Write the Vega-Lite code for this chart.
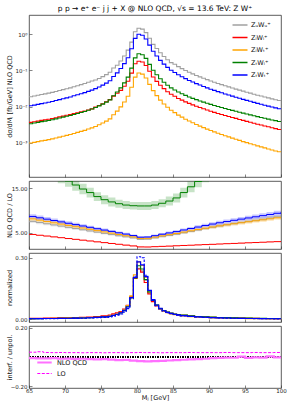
{
"$schema": "https://vega.github.io/schema/vega-lite/v6.json",
"background": "white",
"padding": {"left": 5, "top": 4, "right": 12, "bottom": 8},
"spacing": 4,
"bounds": "flush",
"resolve": {"scale": {"color": "independent", "strokeDash": "independent", "strokeWidth": "independent"}},
"config": {
 "font": "DejaVu Sans",
 "view": {"stroke": "#333333", "strokeWidth": 0.8},
 "axis": {"grid": false, "domain": false, "tickSize": -3, "tickColor": "#333333", "tickWidth": 0.6, "labelFontSize": 5.5, "labelColor": "#222222", "labelPadding": 5, "labelFlush": false, "titleFontSize": 6.5, "titleFontWeight": "normal", "titleColor": "#111111"},
 "axisY": {"titleX": -17},
 "axisX": {"labelPadding": 3, "titlePadding": 1},
 "legend": {"title": null, "labelFontSize": 6.5, "labelColor": "#111111"}
},
"datasets": {
"top": [
{"s":"UU","x":65,"v":0.0189},{"s":"UU","x":65.5,"v":0.0198},{"s":"UU","x":66,"v":0.0207},{"s":"UU","x":66.5,"v":0.0217},{"s":"UU","x":67,"v":0.0226},{"s":"UU","x":67.5,"v":0.0237},{"s":"UU","x":68,"v":0.0249},{"s":"UU","x":68.5,"v":0.0263},{"s":"UU","x":69,"v":0.028},{"s":"UU","x":69.5,"v":0.0296},{"s":"UU","x":70,"v":0.0313},{"s":"UU","x":70.5,"v":0.0331},{"s":"UU","x":71,"v":0.0356},{"s":"UU","x":71.5,"v":0.0381},{"s":"UU","x":72,"v":0.0408},{"s":"UU","x":72.5,"v":0.0436},{"s":"UU","x":73,"v":0.0474},{"s":"UU","x":73.5,"v":0.0513},{"s":"UU","x":74,"v":0.0544},{"s":"UU","x":74.5,"v":0.0604},{"s":"UU","x":75,"v":0.0678},{"s":"UU","x":75.5,"v":0.0769},{"s":"UU","x":76,"v":0.0893},{"s":"UU","x":76.5,"v":0.117},{"s":"UU","x":77,"v":0.139},{"s":"UU","x":77.5,"v":0.183},{"s":"UU","x":78,"v":0.251},{"s":"UU","x":78.5,"v":0.365},{"s":"UU","x":79,"v":0.608},{"s":"UU","x":79.5,"v":1.17},{"s":"UU","x":80,"v":1.46},{"s":"UU","x":80.5,"v":1.39},{"s":"UU","x":81,"v":1.11},{"s":"UU","x":81.5,"v":0.775},{"s":"UU","x":82,"v":0.527},{"s":"UU","x":82.5,"v":0.405},{"s":"UU","x":83,"v":0.308},{"s":"UU","x":83.5,"v":0.243},{"s":"UU","x":84,"v":0.198},{"s":"UU","x":84.5,"v":0.165},{"s":"UU","x":85,"v":0.148},{"s":"UU","x":85.5,"v":0.128},{"s":"UU","x":86,"v":0.1129},{"s":"UU","x":86.5,"v":0.1},{"s":"UU","x":87,"v":0.0894},{"s":"UU","x":87.5,"v":0.0806},{"s":"UU","x":88,"v":0.0731},{"s":"UU","x":88.5,"v":0.0665},{"s":"UU","x":89,"v":0.0608},{"s":"UU","x":89.5,"v":0.0558},{"s":"UU","x":90,"v":0.0512},{"s":"UU","x":90.5,"v":0.0474},{"s":"UU","x":91,"v":0.0438},{"s":"UU","x":91.5,"v":0.0407},{"s":"UU","x":92,"v":0.0378},{"s":"UU","x":92.5,"v":0.0353},{"s":"UU","x":93,"v":0.0329},{"s":"UU","x":93.5,"v":0.0307},{"s":"UU","x":94,"v":0.0287},{"s":"UU","x":94.5,"v":0.0269},{"s":"UU","x":95,"v":0.0252},{"s":"UU","x":95.5,"v":0.0237},{"s":"UU","x":96,"v":0.0222},{"s":"UU","x":96.5,"v":0.0208},{"s":"UU","x":97,"v":0.0197},{"s":"UU","x":97.5,"v":0.0185},{"s":"UU","x":98,"v":0.0175},{"s":"UU","x":98.5,"v":0.0165},{"s":"UU","x":99,"v":0.0156},{"s":"UU","x":99.5,"v":0.0148},{"s":"UU","x":100,"v":0.0148},
{"s":"LL","x":65,"v":0.00371},{"s":"LL","x":65.5,"v":0.00386},{"s":"LL","x":66,"v":0.00401},{"s":"LL","x":66.5,"v":0.0042},{"s":"LL","x":67,"v":0.00434},{"s":"LL","x":67.5,"v":0.00452},{"s":"LL","x":68,"v":0.00473},{"s":"LL","x":68.5,"v":0.00497},{"s":"LL","x":69,"v":0.00524},{"s":"LL","x":69.5,"v":0.00551},{"s":"LL","x":70,"v":0.00581},{"s":"LL","x":70.5,"v":0.00606},{"s":"LL","x":71,"v":0.00644},{"s":"LL","x":71.5,"v":0.00681},{"s":"LL","x":72,"v":0.00719},{"s":"LL","x":72.5,"v":0.0076},{"s":"LL","x":73,"v":0.00814},{"s":"LL","x":73.5,"v":0.0087},{"s":"LL","x":74,"v":0.0098},{"s":"LL","x":74.5,"v":0.0108},{"s":"LL","x":75,"v":0.0121},{"s":"LL","x":75.5,"v":0.0137},{"s":"LL","x":76,"v":0.0157},{"s":"LL","x":76.5,"v":0.0196},{"s":"LL","x":77,"v":0.0236},{"s":"LL","x":77.5,"v":0.0283},{"s":"LL","x":78,"v":0.0369},{"s":"LL","x":78.5,"v":0.0506},{"s":"LL","x":79,"v":0.0848},{"s":"LL","x":79.5,"v":0.154},{"s":"LL","x":80,"v":0.18},{"s":"LL","x":80.5,"v":0.171},{"s":"LL","x":81,"v":0.1376},{"s":"LL","x":81.5,"v":0.095},{"s":"LL","x":82,"v":0.0663},{"s":"LL","x":82.5,"v":0.05},{"s":"LL","x":83,"v":0.039},{"s":"LL","x":83.5,"v":0.0315},{"s":"LL","x":84,"v":0.026},{"s":"LL","x":84.5,"v":0.022},{"s":"LL","x":85,"v":0.0194},{"s":"LL","x":85.5,"v":0.0169},{"s":"LL","x":86,"v":0.01519},{"s":"LL","x":86.5,"v":0.01363},{"s":"LL","x":87,"v":0.01234},{"s":"LL","x":87.5,"v":0.01128},{"s":"LL","x":88,"v":0.01035},{"s":"LL","x":88.5,"v":0.0095},{"s":"LL","x":89,"v":0.00876},{"s":"LL","x":89.5,"v":0.0081},{"s":"LL","x":90,"v":0.0075},{"s":"LL","x":90.5,"v":0.00699},{"s":"LL","x":91,"v":0.00653},{"s":"LL","x":91.5,"v":0.0061},{"s":"LL","x":92,"v":0.00572},{"s":"LL","x":92.5,"v":0.00538},{"s":"LL","x":93,"v":0.00506},{"s":"LL","x":93.5,"v":0.00476},{"s":"LL","x":94,"v":0.00446},{"s":"LL","x":94.5,"v":0.00419},{"s":"LL","x":95,"v":0.00395},{"s":"LL","x":95.5,"v":0.00372},{"s":"LL","x":96,"v":0.0035},{"s":"LL","x":96.5,"v":0.0033},{"s":"LL","x":97,"v":0.00312},{"s":"LL","x":97.5,"v":0.00295},{"s":"LL","x":98,"v":0.00279},{"s":"LL","x":98.5,"v":0.00263},{"s":"LL","x":99,"v":0.00249},{"s":"LL","x":99.5,"v":0.00236},{"s":"LL","x":100,"v":0.00236},
{"s":"LT","x":65,"v":0.000996},{"s":"LT","x":65.5,"v":0.00104},{"s":"LT","x":66,"v":0.00109},{"s":"LT","x":66.5,"v":0.00114},{"s":"LT","x":67,"v":0.00118},{"s":"LT","x":67.5,"v":0.00124},{"s":"LT","x":68,"v":0.0013},{"s":"LT","x":68.5,"v":0.00137},{"s":"LT","x":69,"v":0.00145},{"s":"LT","x":69.5,"v":0.00153},{"s":"LT","x":70,"v":0.00162},{"s":"LT","x":70.5,"v":0.00171},{"s":"LT","x":71,"v":0.00183},{"s":"LT","x":71.5,"v":0.00196},{"s":"LT","x":72,"v":0.00209},{"s":"LT","x":72.5,"v":0.00223},{"s":"LT","x":73,"v":0.00242},{"s":"LT","x":73.5,"v":0.00261},{"s":"LT","x":74,"v":0.00286},{"s":"LT","x":74.5,"v":0.00317},{"s":"LT","x":75,"v":0.00355},{"s":"LT","x":75.5,"v":0.004},{"s":"LT","x":76,"v":0.00462},{"s":"LT","x":76.5,"v":0.00602},{"s":"LT","x":77,"v":0.00757},{"s":"LT","x":77.5,"v":0.00989},{"s":"LT","x":78,"v":0.01349},{"s":"LT","x":78.5,"v":0.01946},{"s":"LT","x":79,"v":0.0344},{"s":"LT","x":79.5,"v":0.0658},{"s":"LT","x":80,"v":0.085},{"s":"LT","x":80.5,"v":0.0794},{"s":"LT","x":81,"v":0.0622},{"s":"LT","x":81.5,"v":0.0415},{"s":"LT","x":82,"v":0.0279},{"s":"LT","x":82.5,"v":0.0203},{"s":"LT","x":83,"v":0.0152},{"s":"LT","x":83.5,"v":0.0119},{"s":"LT","x":84,"v":0.00964},{"s":"LT","x":84.5,"v":0.008},{"s":"LT","x":85,"v":0.00686},{"s":"LT","x":85.5,"v":0.00588},{"s":"LT","x":86,"v":0.00516},{"s":"LT","x":86.5,"v":0.00453},{"s":"LT","x":87,"v":0.00402},{"s":"LT","x":87.5,"v":0.0036},{"s":"LT","x":88,"v":0.00324},{"s":"LT","x":88.5,"v":0.00292},{"s":"LT","x":89,"v":0.00265},{"s":"LT","x":89.5,"v":0.00241},{"s":"LT","x":90,"v":0.0022},{"s":"LT","x":90.5,"v":0.00202},{"s":"LT","x":91,"v":0.00186},{"s":"LT","x":91.5,"v":0.00171},{"s":"LT","x":92,"v":0.00158},{"s":"LT","x":92.5,"v":0.00147},{"s":"LT","x":93,"v":0.00136},{"s":"LT","x":93.5,"v":0.00127},{"s":"LT","x":94,"v":0.00118},{"s":"LT","x":94.5,"v":0.00109},{"s":"LT","x":95,"v":0.00102},{"s":"LT","x":95.5,"v":0.00095},{"s":"LT","x":96,"v":0.00089},{"s":"LT","x":96.5,"v":0.00083},{"s":"LT","x":97,"v":0.00078},{"s":"LT","x":97.5,"v":0.00073},{"s":"LT","x":98,"v":0.00068},{"s":"LT","x":98.5,"v":0.00064},{"s":"LT","x":99,"v":0.0006},{"s":"LT","x":99.5,"v":0.00057},{"s":"LT","x":100,"v":0.00057},
{"s":"TL","x":65,"v":0.00339},{"s":"TL","x":65.5,"v":0.00355},{"s":"TL","x":66,"v":0.00371},{"s":"TL","x":66.5,"v":0.00388},{"s":"TL","x":67,"v":0.00401},{"s":"TL","x":67.5,"v":0.00418},{"s":"TL","x":68,"v":0.00438},{"s":"TL","x":68.5,"v":0.00462},{"s":"TL","x":69,"v":0.00488},{"s":"TL","x":69.5,"v":0.00515},{"s":"TL","x":70,"v":0.00546},{"s":"TL","x":70.5,"v":0.00573},{"s":"TL","x":71,"v":0.00612},{"s":"TL","x":71.5,"v":0.00653},{"s":"TL","x":72,"v":0.00696},{"s":"TL","x":72.5,"v":0.00742},{"s":"TL","x":73,"v":0.00803},{"s":"TL","x":73.5,"v":0.00867},{"s":"TL","x":74,"v":0.00948},{"s":"TL","x":74.5,"v":0.01053},{"s":"TL","x":75,"v":0.01182},{"s":"TL","x":75.5,"v":0.01341},{"s":"TL","x":76,"v":0.01547},{"s":"TL","x":76.5,"v":0.0201},{"s":"TL","x":77,"v":0.0254},{"s":"TL","x":77.5,"v":0.0332},{"s":"TL","x":78,"v":0.0454},{"s":"TL","x":78.5,"v":0.0657},{"s":"TL","x":79,"v":0.1164},{"s":"TL","x":79.5,"v":0.2233},{"s":"TL","x":80,"v":0.29},{"s":"TL","x":80.5,"v":0.2726},{"s":"TL","x":81,"v":0.2161},{"s":"TL","x":81.5,"v":0.1475},{"s":"TL","x":82,"v":0.102},{"s":"TL","x":82.5,"v":0.0763},{"s":"TL","x":83,"v":0.0589},{"s":"TL","x":83.5,"v":0.0473},{"s":"TL","x":84,"v":0.039},{"s":"TL","x":84.5,"v":0.0332},{"s":"TL","x":85,"v":0.029},{"s":"TL","x":85.5,"v":0.0255},{"s":"TL","x":86,"v":0.02285},{"s":"TL","x":86.5,"v":0.02053},{"s":"TL","x":87,"v":0.01862},{"s":"TL","x":87.5,"v":0.01704},{"s":"TL","x":88,"v":0.01566},{"s":"TL","x":88.5,"v":0.01445},{"s":"TL","x":89,"v":0.01339},{"s":"TL","x":89.5,"v":0.01245},{"s":"TL","x":90,"v":0.01159},{"s":"TL","x":90.5,"v":0.01083},{"s":"TL","x":91,"v":0.01013},{"s":"TL","x":91.5,"v":0.00949},{"s":"TL","x":92,"v":0.00891},{"s":"TL","x":92.5,"v":0.0084},{"s":"TL","x":93,"v":0.00792},{"s":"TL","x":93.5,"v":0.00747},{"s":"TL","x":94,"v":0.00705},{"s":"TL","x":94.5,"v":0.00666},{"s":"TL","x":95,"v":0.0063},{"s":"TL","x":95.5,"v":0.00596},{"s":"TL","x":96,"v":0.00562},{"s":"TL","x":96.5,"v":0.00532},{"s":"TL","x":97,"v":0.00505},{"s":"TL","x":97.5,"v":0.00479},{"s":"TL","x":98,"v":0.00456},{"s":"TL","x":98.5,"v":0.00432},{"s":"TL","x":99,"v":0.00413},{"s":"TL","x":99.5,"v":0.00393},{"s":"TL","x":100,"v":0.00393},
{"s":"TT","x":65,"v":0.0106},{"s":"TT","x":65.5,"v":0.0111},{"s":"TT","x":66,"v":0.0116},{"s":"TT","x":66.5,"v":0.0122},{"s":"TT","x":67,"v":0.0127},{"s":"TT","x":67.5,"v":0.0133},{"s":"TT","x":68,"v":0.014},{"s":"TT","x":68.5,"v":0.0148},{"s":"TT","x":69,"v":0.0157},{"s":"TT","x":69.5,"v":0.0166},{"s":"TT","x":70,"v":0.0176},{"s":"TT","x":70.5,"v":0.0186},{"s":"TT","x":71,"v":0.02},{"s":"TT","x":71.5,"v":0.0214},{"s":"TT","x":72,"v":0.0229},{"s":"TT","x":72.5,"v":0.0245},{"s":"TT","x":73,"v":0.0266},{"s":"TT","x":73.5,"v":0.0288},{"s":"TT","x":74,"v":0.0316},{"s":"TT","x":74.5,"v":0.0351},{"s":"TT","x":75,"v":0.0394},{"s":"TT","x":75.5,"v":0.0447},{"s":"TT","x":76,"v":0.0519},{"s":"TT","x":76.5,"v":0.068},{"s":"TT","x":77,"v":0.086},{"s":"TT","x":77.5,"v":0.113},{"s":"TT","x":78,"v":0.155},{"s":"TT","x":78.5,"v":0.225},{"s":"TT","x":79,"v":0.4},{"s":"TT","x":79.5,"v":0.77},{"s":"TT","x":80,"v":1.0},{"s":"TT","x":80.5,"v":0.94},{"s":"TT","x":81,"v":0.74},{"s":"TT","x":81.5,"v":0.5},{"s":"TT","x":82,"v":0.34},{"s":"TT","x":82.5,"v":0.25},{"s":"TT","x":83,"v":0.19},{"s":"TT","x":83.5,"v":0.15},{"s":"TT","x":84,"v":0.122},{"s":"TT","x":84.5,"v":0.102},{"s":"TT","x":85,"v":0.088},{"s":"TT","x":85.5,"v":0.076},{"s":"TT","x":86,"v":0.0672},{"s":"TT","x":86.5,"v":0.0595},{"s":"TT","x":87,"v":0.0532},{"s":"TT","x":87.5,"v":0.048},{"s":"TT","x":88,"v":0.0435},{"s":"TT","x":88.5,"v":0.0396},{"s":"TT","x":89,"v":0.0362},{"s":"TT","x":89.5,"v":0.0332},{"s":"TT","x":90,"v":0.0305},{"s":"TT","x":90.5,"v":0.0282},{"s":"TT","x":91,"v":0.0261},{"s":"TT","x":91.5,"v":0.0242},{"s":"TT","x":92,"v":0.0225},{"s":"TT","x":92.5,"v":0.021},{"s":"TT","x":93,"v":0.0196},{"s":"TT","x":93.5,"v":0.0183},{"s":"TT","x":94,"v":0.0171},{"s":"TT","x":94.5,"v":0.016},{"s":"TT","x":95,"v":0.015},{"s":"TT","x":95.5,"v":0.0141},{"s":"TT","x":96,"v":0.0132},{"s":"TT","x":96.5,"v":0.0124},{"s":"TT","x":97,"v":0.0117},{"s":"TT","x":97.5,"v":0.011},{"s":"TT","x":98,"v":0.0104},{"s":"TT","x":98.5,"v":0.0098},{"s":"TT","x":99,"v":0.0093},{"s":"TT","x":99.5,"v":0.0088},{"s":"TT","x":100,"v":0.0088}
],
"ratio": [
{"s":"UU","x":65,"v":7.54,"lo":7.16,"hi":7.92},{"s":"UU","x":66,"v":7.27,"lo":6.91,"hi":7.63},{"s":"UU","x":67,"v":7.0,"lo":6.65,"hi":7.35},{"s":"UU","x":68,"v":6.73,"lo":6.39,"hi":7.07},{"s":"UU","x":69,"v":6.46,"lo":6.14,"hi":6.78},{"s":"UU","x":70,"v":6.19,"lo":5.88,"hi":6.5},{"s":"UU","x":71,"v":5.92,"lo":5.62,"hi":6.22},{"s":"UU","x":72,"v":5.65,"lo":5.37,"hi":5.93},{"s":"UU","x":73,"v":5.38,"lo":5.11,"hi":5.65},{"s":"UU","x":74,"v":5.11,"lo":4.85,"hi":5.37},{"s":"UU","x":75,"v":4.84,"lo":4.6,"hi":5.08},{"s":"UU","x":76,"v":4.57,"lo":4.34,"hi":4.8},{"s":"UU","x":77,"v":4.3,"lo":4.09,"hi":4.52},{"s":"UU","x":78,"v":4.06,"lo":3.86,"hi":4.26},{"s":"UU","x":79,"v":3.82,"lo":3.63,"hi":4.01},{"s":"UU","x":80,"v":3.5,"lo":3.33,"hi":3.68},{"s":"UU","x":81,"v":3.54,"lo":3.36,"hi":3.72},{"s":"UU","x":82,"v":3.82,"lo":3.63,"hi":4.01},{"s":"UU","x":83,"v":4.1,"lo":3.9,"hi":4.31},{"s":"UU","x":84,"v":4.37,"lo":4.15,"hi":4.59},{"s":"UU","x":85,"v":4.64,"lo":4.41,"hi":4.87},{"s":"UU","x":86,"v":4.97,"lo":4.72,"hi":5.22},{"s":"UU","x":87,"v":5.28,"lo":5.02,"hi":5.54},{"s":"UU","x":88,"v":5.59,"lo":5.31,"hi":5.87},{"s":"UU","x":89,"v":5.91,"lo":5.61,"hi":6.21},{"s":"UU","x":90,"v":6.22,"lo":5.91,"hi":6.53},{"s":"UU","x":91,"v":6.5,"lo":6.18,"hi":6.83},{"s":"UU","x":92,"v":6.77,"lo":6.43,"hi":7.11},{"s":"UU","x":93,"v":7.03,"lo":6.68,"hi":7.38},{"s":"UU","x":94,"v":7.29,"lo":6.93,"hi":7.65},{"s":"UU","x":95,"v":7.54,"lo":7.16,"hi":7.92},{"s":"UU","x":96,"v":7.79,"lo":7.4,"hi":8.18},{"s":"UU","x":97,"v":8.04,"lo":7.64,"hi":8.44},{"s":"UU","x":98,"v":8.3,"lo":7.89,"hi":8.72},{"s":"UU","x":99,"v":8.56,"lo":8.13,"hi":8.99},{"s":"UU","x":100,"v":8.81,"lo":8.37,"hi":9.25},
{"s":"LL","x":65,"v":4.6,"lo":4.53,"hi":4.67},{"s":"LL","x":66,"v":4.42,"lo":4.35,"hi":4.49},{"s":"LL","x":67,"v":4.24,"lo":4.17,"hi":4.31},{"s":"LL","x":68,"v":4.05,"lo":3.98,"hi":4.12},{"s":"LL","x":69,"v":3.87,"lo":3.8,"hi":3.94},{"s":"LL","x":70,"v":3.68,"lo":3.61,"hi":3.75},{"s":"LL","x":71,"v":3.5,"lo":3.43,"hi":3.57},{"s":"LL","x":72,"v":3.31,"lo":3.24,"hi":3.38},{"s":"LL","x":73,"v":3.13,"lo":3.06,"hi":3.2},{"s":"LL","x":74,"v":2.94,"lo":2.87,"hi":3.01},{"s":"LL","x":75,"v":2.76,"lo":2.69,"hi":2.83},{"s":"LL","x":76,"v":2.57,"lo":2.5,"hi":2.64},{"s":"LL","x":77,"v":2.39,"lo":2.32,"hi":2.46},{"s":"LL","x":78,"v":2.2,"lo":2.13,"hi":2.27},{"s":"LL","x":79,"v":2.02,"lo":1.95,"hi":2.09},{"s":"LL","x":80,"v":1.8,"lo":1.73,"hi":1.87},{"s":"LL","x":81,"v":1.78,"lo":1.71,"hi":1.85},{"s":"LL","x":82,"v":1.85,"lo":1.78,"hi":1.92},{"s":"LL","x":83,"v":1.92,"lo":1.85,"hi":1.99},{"s":"LL","x":84,"v":1.98,"lo":1.91,"hi":2.05},{"s":"LL","x":85,"v":2.05,"lo":1.98,"hi":2.12},{"s":"LL","x":86,"v":2.12,"lo":2.05,"hi":2.19},{"s":"LL","x":87,"v":2.18,"lo":2.11,"hi":2.25},{"s":"LL","x":88,"v":2.25,"lo":2.18,"hi":2.32},{"s":"LL","x":89,"v":2.32,"lo":2.25,"hi":2.39},{"s":"LL","x":90,"v":2.38,"lo":2.31,"hi":2.45},{"s":"LL","x":91,"v":2.45,"lo":2.38,"hi":2.52},{"s":"LL","x":92,"v":2.52,"lo":2.45,"hi":2.59},{"s":"LL","x":93,"v":2.58,"lo":2.51,"hi":2.65},{"s":"LL","x":94,"v":2.65,"lo":2.58,"hi":2.72},{"s":"LL","x":95,"v":2.72,"lo":2.65,"hi":2.79},{"s":"LL","x":96,"v":2.78,"lo":2.71,"hi":2.85},{"s":"LL","x":97,"v":2.85,"lo":2.78,"hi":2.92},{"s":"LL","x":98,"v":2.92,"lo":2.85,"hi":2.99},{"s":"LL","x":99,"v":2.98,"lo":2.91,"hi":3.05},{"s":"LL","x":100,"v":3.05,"lo":2.98,"hi":3.12},
{"s":"LT","x":65,"v":8.09,"lo":7.6,"hi":8.58},{"s":"LT","x":66,"v":7.8,"lo":7.33,"hi":8.27},{"s":"LT","x":67,"v":7.5,"lo":7.05,"hi":7.95},{"s":"LT","x":68,"v":7.21,"lo":6.78,"hi":7.64},{"s":"LT","x":69,"v":6.92,"lo":6.5,"hi":7.34},{"s":"LT","x":70,"v":6.62,"lo":6.22,"hi":7.02},{"s":"LT","x":71,"v":6.33,"lo":5.95,"hi":6.71},{"s":"LT","x":72,"v":6.04,"lo":5.68,"hi":6.4},{"s":"LT","x":73,"v":5.75,"lo":5.41,"hi":6.1},{"s":"LT","x":74,"v":5.46,"lo":5.13,"hi":5.79},{"s":"LT","x":75,"v":5.17,"lo":4.86,"hi":5.48},{"s":"LT","x":76,"v":4.88,"lo":4.59,"hi":5.17},{"s":"LT","x":77,"v":4.58,"lo":4.31,"hi":4.85},{"s":"LT","x":78,"v":4.31,"lo":4.05,"hi":4.57},{"s":"LT","x":79,"v":4.04,"lo":3.8,"hi":4.28},{"s":"LT","x":80,"v":3.68,"lo":3.46,"hi":3.9},{"s":"LT","x":81,"v":3.72,"lo":3.5,"hi":3.94},{"s":"LT","x":82,"v":4.0,"lo":3.76,"hi":4.24},{"s":"LT","x":83,"v":4.28,"lo":4.02,"hi":4.54},{"s":"LT","x":84,"v":4.54,"lo":4.27,"hi":4.81},{"s":"LT","x":85,"v":4.81,"lo":4.52,"hi":5.1},{"s":"LT","x":86,"v":5.13,"lo":4.82,"hi":5.44},{"s":"LT","x":87,"v":5.42,"lo":5.09,"hi":5.75},{"s":"LT","x":88,"v":5.71,"lo":5.37,"hi":6.05},{"s":"LT","x":89,"v":6.0,"lo":5.64,"hi":6.36},{"s":"LT","x":90,"v":6.28,"lo":5.9,"hi":6.66},{"s":"LT","x":91,"v":6.53,"lo":6.14,"hi":6.92},{"s":"LT","x":92,"v":6.77,"lo":6.36,"hi":7.18},{"s":"LT","x":93,"v":7.0,"lo":6.58,"hi":7.42},{"s":"LT","x":94,"v":7.23,"lo":6.8,"hi":7.66},{"s":"LT","x":95,"v":7.45,"lo":7.0,"hi":7.9},{"s":"LT","x":96,"v":7.67,"lo":7.21,"hi":8.13},{"s":"LT","x":97,"v":7.89,"lo":7.42,"hi":8.36},{"s":"LT","x":98,"v":8.11,"lo":7.62,"hi":8.6},{"s":"LT","x":99,"v":8.34,"lo":7.84,"hi":8.84},{"s":"LT","x":100,"v":8.56,"lo":8.05,"hi":9.07},
{"s":"TL","x":65,"v":21.0,"lo":19.3,"hi":22.7},{"s":"TL","x":66,"v":20.1,"lo":18.5,"hi":21.7},{"s":"TL","x":67,"v":19.2,"lo":17.7,"hi":20.7},{"s":"TL","x":68,"v":18.3,"lo":16.8,"hi":19.8},{"s":"TL","x":69,"v":17.5,"lo":16.1,"hi":18.9},{"s":"TL","x":70,"v":16.6,"lo":15.3,"hi":17.9},{"s":"TL","x":71,"v":15.7,"lo":14.4,"hi":17.0},{"s":"TL","x":72,"v":14.8,"lo":13.6,"hi":16.0},{"s":"TL","x":73,"v":14.0,"lo":12.9,"hi":15.1},{"s":"TL","x":74,"v":13.1,"lo":12.1,"hi":14.1},{"s":"TL","x":75,"v":12.4,"lo":11.4,"hi":13.4},{"s":"TL","x":76,"v":11.9,"lo":10.9,"hi":12.9},{"s":"TL","x":77,"v":11.5,"lo":10.6,"hi":12.4},{"s":"TL","x":78,"v":11.2,"lo":10.3,"hi":12.1},{"s":"TL","x":79,"v":11.05,"lo":10.2,"hi":11.9},{"s":"TL","x":80,"v":11.0,"lo":10.1,"hi":11.9},{"s":"TL","x":81,"v":11.0,"lo":10.1,"hi":11.9},{"s":"TL","x":82,"v":11.2,"lo":10.3,"hi":12.1},{"s":"TL","x":83,"v":11.6,"lo":10.7,"hi":12.5},{"s":"TL","x":84,"v":12.1,"lo":11.1,"hi":13.1},{"s":"TL","x":85,"v":12.8,"lo":11.8,"hi":13.8},{"s":"TL","x":86,"v":14.0,"lo":12.9,"hi":15.1},{"s":"TL","x":87,"v":15.3,"lo":14.1,"hi":16.5},{"s":"TL","x":88,"v":16.5,"lo":15.2,"hi":17.8},{"s":"TL","x":89,"v":17.7,"lo":16.3,"hi":19.1},{"s":"TL","x":90,"v":18.9,"lo":17.4,"hi":20.4},{"s":"TL","x":91,"v":20.1,"lo":18.5,"hi":21.7},{"s":"TL","x":92,"v":21.3,"lo":19.6,"hi":23.0},{"s":"TL","x":93,"v":22.5,"lo":20.7,"hi":24.3},
{"s":"TT","x":65,"v":8.64,"lo":8.12,"hi":9.16},{"s":"TT","x":66,"v":8.34,"lo":7.84,"hi":8.84},{"s":"TT","x":67,"v":8.03,"lo":7.55,"hi":8.51},{"s":"TT","x":68,"v":7.73,"lo":7.27,"hi":8.19},{"s":"TT","x":69,"v":7.42,"lo":6.97,"hi":7.87},{"s":"TT","x":70,"v":7.11,"lo":6.68,"hi":7.54},{"s":"TT","x":71,"v":6.81,"lo":6.4,"hi":7.22},{"s":"TT","x":72,"v":6.5,"lo":6.11,"hi":6.89},{"s":"TT","x":73,"v":6.2,"lo":5.83,"hi":6.57},{"s":"TT","x":74,"v":5.89,"lo":5.54,"hi":6.24},{"s":"TT","x":75,"v":5.58,"lo":5.25,"hi":5.91},{"s":"TT","x":76,"v":5.28,"lo":4.96,"hi":5.6},{"s":"TT","x":77,"v":4.97,"lo":4.67,"hi":5.27},{"s":"TT","x":78,"v":4.68,"lo":4.4,"hi":4.96},{"s":"TT","x":79,"v":4.35,"lo":4.09,"hi":4.61},{"s":"TT","x":80,"v":3.98,"lo":3.74,"hi":4.22},{"s":"TT","x":81,"v":4.02,"lo":3.78,"hi":4.26},{"s":"TT","x":82,"v":4.32,"lo":4.06,"hi":4.58},{"s":"TT","x":83,"v":4.65,"lo":4.37,"hi":4.93},{"s":"TT","x":84,"v":4.94,"lo":4.64,"hi":5.24},{"s":"TT","x":85,"v":5.24,"lo":4.93,"hi":5.55},{"s":"TT","x":86,"v":5.6,"lo":5.26,"hi":5.94},{"s":"TT","x":87,"v":5.93,"lo":5.57,"hi":6.29},{"s":"TT","x":88,"v":6.26,"lo":5.88,"hi":6.64},{"s":"TT","x":89,"v":6.6,"lo":6.2,"hi":7.0},{"s":"TT","x":90,"v":6.93,"lo":6.51,"hi":7.35},{"s":"TT","x":91,"v":7.22,"lo":6.79,"hi":7.65},{"s":"TT","x":92,"v":7.5,"lo":7.05,"hi":7.95},{"s":"TT","x":93,"v":7.77,"lo":7.3,"hi":8.24},{"s":"TT","x":94,"v":8.04,"lo":7.56,"hi":8.52},{"s":"TT","x":95,"v":8.3,"lo":7.8,"hi":8.8},{"s":"TT","x":96,"v":8.56,"lo":8.05,"hi":9.07},{"s":"TT","x":97,"v":8.82,"lo":8.29,"hi":9.35},{"s":"TT","x":98,"v":9.08,"lo":8.54,"hi":9.62},{"s":"TT","x":99,"v":9.35,"lo":8.79,"hi":9.91},{"s":"TT","x":100,"v":9.6,"lo":9.02,"hi":10.18}
],
"norm": [
{"s":"UU","x":65,"v":0.0035},{"s":"UU","x":66,"v":0.0039},{"s":"UU","x":67,"v":0.0042},{"s":"UU","x":68,"v":0.0047},{"s":"UU","x":69,"v":0.0053},{"s":"UU","x":70,"v":0.0059},{"s":"UU","x":71,"v":0.0067},{"s":"UU","x":72,"v":0.0077},{"s":"UU","x":73,"v":0.009},{"s":"UU","x":74,"v":0.0105},{"s":"UU","x":75,"v":0.0132},{"s":"UU","x":76,"v":0.0163},{"s":"UU","x":76.5,"v":0.0214},{"s":"UU","x":77,"v":0.0254},{"s":"UU","x":77.5,"v":0.0334},{"s":"UU","x":78,"v":0.0458},{"s":"UU","x":78.5,"v":0.0666},{"s":"UU","x":79,"v":0.103},{"s":"UU","x":79.5,"v":0.199},{"s":"UU","x":80,"v":0.248},{"s":"UU","x":80.5,"v":0.236},{"s":"UU","x":81,"v":0.189},{"s":"UU","x":81.5,"v":0.132},{"s":"UU","x":82,"v":0.0896},{"s":"UU","x":82.5,"v":0.069},{"s":"UU","x":83,"v":0.052},{"s":"UU","x":83.5,"v":0.041},{"s":"UU","x":84,"v":0.034},{"s":"UU","x":84.5,"v":0.028},{"s":"UU","x":85,"v":0.025},{"s":"UU","x":85.5,"v":0.0234},{"s":"UU","x":86,"v":0.0194},{"s":"UU","x":87,"v":0.0155},{"s":"UU","x":88,"v":0.0127},{"s":"UU","x":89,"v":0.0106},{"s":"UU","x":90,"v":0.009},{"s":"UU","x":91,"v":0.0077},{"s":"UU","x":92,"v":0.0067},{"s":"UU","x":93,"v":0.0058},{"s":"UU","x":94,"v":0.0051},{"s":"UU","x":95,"v":0.0045},{"s":"UU","x":96,"v":0.0039},{"s":"UU","x":97,"v":0.0035},{"s":"UU","x":98,"v":0.0031},{"s":"UU","x":99,"v":0.0028},{"s":"UU","x":100,"v":0.0028},
{"s":"LL","x":65,"v":0.0051},{"s":"LL","x":66,"v":0.0055},{"s":"LL","x":67,"v":0.006},{"s":"LL","x":68,"v":0.0065},{"s":"LL","x":69,"v":0.0073},{"s":"LL","x":70,"v":0.008},{"s":"LL","x":71,"v":0.009},{"s":"LL","x":72,"v":0.01},{"s":"LL","x":73,"v":0.0114},{"s":"LL","x":74,"v":0.0139},{"s":"LL","x":75,"v":0.0174},{"s":"LL","x":76,"v":0.0212},{"s":"LL","x":76.5,"v":0.0265},{"s":"LL","x":77,"v":0.0319},{"s":"LL","x":77.5,"v":0.0382},{"s":"LL","x":78,"v":0.0498},{"s":"LL","x":78.5,"v":0.0683},{"s":"LL","x":79,"v":0.11},{"s":"LL","x":79.5,"v":0.2},{"s":"LL","x":80,"v":0.245},{"s":"LL","x":80.5,"v":0.23},{"s":"LL","x":81,"v":0.179},{"s":"LL","x":81.5,"v":0.124},{"s":"LL","x":82,"v":0.086},{"s":"LL","x":82.5,"v":0.065},{"s":"LL","x":83,"v":0.051},{"s":"LL","x":83.5,"v":0.041},{"s":"LL","x":84,"v":0.034},{"s":"LL","x":84.5,"v":0.029},{"s":"LL","x":85,"v":0.025},{"s":"LL","x":85.5,"v":0.0228},{"s":"LL","x":86,"v":0.0195},{"s":"LL","x":87,"v":0.0159},{"s":"LL","x":88,"v":0.0134},{"s":"LL","x":89,"v":0.0114},{"s":"LL","x":90,"v":0.0098},{"s":"LL","x":91,"v":0.0085},{"s":"LL","x":92,"v":0.0075},{"s":"LL","x":93,"v":0.0066},{"s":"LL","x":94,"v":0.0058},{"s":"LL","x":95,"v":0.0052},{"s":"LL","x":96,"v":0.0046},{"s":"LL","x":97,"v":0.0041},{"s":"LL","x":98,"v":0.0037},{"s":"LL","x":99,"v":0.0033},{"s":"LL","x":100,"v":0.0033},
{"s":"LT","x":65,"v":0.0035},{"s":"LT","x":66,"v":0.0039},{"s":"LT","x":67,"v":0.0042},{"s":"LT","x":68,"v":0.0046},{"s":"LT","x":69,"v":0.0051},{"s":"LT","x":70,"v":0.0058},{"s":"LT","x":71,"v":0.0066},{"s":"LT","x":72,"v":0.0075},{"s":"LT","x":73,"v":0.0087},{"s":"LT","x":74,"v":0.0104},{"s":"LT","x":75,"v":0.013},{"s":"LT","x":76,"v":0.0159},{"s":"LT","x":76.5,"v":0.0208},{"s":"LT","x":77,"v":0.0261},{"s":"LT","x":77.5,"v":0.0341},{"s":"LT","x":78,"v":0.0465},{"s":"LT","x":78.5,"v":0.0671},{"s":"LT","x":79,"v":0.114},{"s":"LT","x":79.5,"v":0.217},{"s":"LT","x":80,"v":0.28},{"s":"LT","x":80.5,"v":0.262},{"s":"LT","x":81,"v":0.205},{"s":"LT","x":81.5,"v":0.137},{"s":"LT","x":82,"v":0.092},{"s":"LT","x":82.5,"v":0.067},{"s":"LT","x":83,"v":0.05},{"s":"LT","x":83.5,"v":0.039},{"s":"LT","x":84,"v":0.032},{"s":"LT","x":84.5,"v":0.026},{"s":"LT","x":85,"v":0.0226},{"s":"LT","x":85.5,"v":0.0203},{"s":"LT","x":86,"v":0.0167},{"s":"LT","x":87,"v":0.0131},{"s":"LT","x":88,"v":0.0106},{"s":"LT","x":89,"v":0.0087},{"s":"LT","x":90,"v":0.0073},{"s":"LT","x":91,"v":0.0062},{"s":"LT","x":92,"v":0.0053},{"s":"LT","x":93,"v":0.0046},{"s":"LT","x":94,"v":0.0039},{"s":"LT","x":95,"v":0.0034},{"s":"LT","x":96,"v":0.003},{"s":"LT","x":97,"v":0.0026},{"s":"LT","x":98,"v":0.0023},{"s":"LT","x":99,"v":0.002},{"s":"LT","x":100,"v":0.002},
{"s":"TL","x":65,"v":0.0032},{"s":"TL","x":66,"v":0.0035},{"s":"TL","x":67,"v":0.0038},{"s":"TL","x":68,"v":0.0042},{"s":"TL","x":69,"v":0.0047},{"s":"TL","x":70,"v":0.0052},{"s":"TL","x":71,"v":0.0059},{"s":"TL","x":72,"v":0.0067},{"s":"TL","x":73,"v":0.0078},{"s":"TL","x":74,"v":0.0093},{"s":"TL","x":75,"v":0.0118},{"s":"TL","x":76,"v":0.0145},{"s":"TL","x":76.5,"v":0.0188},{"s":"TL","x":77,"v":0.0237},{"s":"TL","x":77.5,"v":0.031},{"s":"TL","x":78,"v":0.0424},{"s":"TL","x":78.5,"v":0.0614},{"s":"TL","x":79,"v":0.105},{"s":"TL","x":79.5,"v":0.201},{"s":"TL","x":80,"v":0.261},{"s":"TL","x":80.5,"v":0.245},{"s":"TL","x":81,"v":0.194},{"s":"TL","x":81.5,"v":0.133},{"s":"TL","x":82,"v":0.092},{"s":"TL","x":82.5,"v":0.069},{"s":"TL","x":83,"v":0.053},{"s":"TL","x":83.5,"v":0.043},{"s":"TL","x":84,"v":0.035},{"s":"TL","x":84.5,"v":0.03},{"s":"TL","x":85,"v":0.026},{"s":"TL","x":85.5,"v":0.0238},{"s":"TL","x":86,"v":0.0203},{"s":"TL","x":87,"v":0.0166},{"s":"TL","x":88,"v":0.0141},{"s":"TL","x":89,"v":0.012},{"s":"TL","x":90,"v":0.0105},{"s":"TL","x":91,"v":0.0092},{"s":"TL","x":92,"v":0.0081},{"s":"TL","x":93,"v":0.0072},{"s":"TL","x":94,"v":0.0064},{"s":"TL","x":95,"v":0.0057},{"s":"TL","x":96,"v":0.0051},{"s":"TL","x":97,"v":0.0046},{"s":"TL","x":98,"v":0.0041},{"s":"TL","x":99,"v":0.0037},{"s":"TL","x":100,"v":0.0037},
{"s":"TT","x":65,"v":0.0031},{"s":"TT","x":66,"v":0.0034},{"s":"TT","x":67,"v":0.0037},{"s":"TT","x":68,"v":0.0041},{"s":"TT","x":69,"v":0.0046},{"s":"TT","x":70,"v":0.0052},{"s":"TT","x":71,"v":0.0059},{"s":"TT","x":72,"v":0.0068},{"s":"TT","x":73,"v":0.0079},{"s":"TT","x":74,"v":0.0095},{"s":"TT","x":75,"v":0.012},{"s":"TT","x":76,"v":0.0148},{"s":"TT","x":76.5,"v":0.0194},{"s":"TT","x":77,"v":0.0246},{"s":"TT","x":77.5,"v":0.0323},{"s":"TT","x":78,"v":0.0443},{"s":"TT","x":78.5,"v":0.06},{"s":"TT","x":79,"v":0.106},{"s":"TT","x":79.5,"v":0.204},{"s":"TT","x":80,"v":0.28},{"s":"TT","x":80.5,"v":0.265},{"s":"TT","x":81,"v":0.208},{"s":"TT","x":81.5,"v":0.141},{"s":"TT","x":82,"v":0.096},{"s":"TT","x":82.5,"v":0.07},{"s":"TT","x":83,"v":0.054},{"s":"TT","x":83.5,"v":0.042},{"s":"TT","x":84,"v":0.034},{"s":"TT","x":84.5,"v":0.029},{"s":"TT","x":85,"v":0.025},{"s":"TT","x":85.5,"v":0.0217},{"s":"TT","x":86,"v":0.0181},{"s":"TT","x":87,"v":0.0145},{"s":"TT","x":88,"v":0.0119},{"s":"TT","x":89,"v":0.0099},{"s":"TT","x":90,"v":0.0084},{"s":"TT","x":91,"v":0.0072},{"s":"TT","x":92,"v":0.0062},{"s":"TT","x":93,"v":0.0054},{"s":"TT","x":94,"v":0.0047},{"s":"TT","x":95,"v":0.0042},{"s":"TT","x":96,"v":0.0037},{"s":"TT","x":97,"v":0.0033},{"s":"TT","x":98,"v":0.0029},{"s":"TT","x":99,"v":0.0026},{"s":"TT","x":100,"v":0.0026}
],
"normlo": [
{"x":65,"v":0.0025},{"x":66,"v":0.0027},{"x":67,"v":0.003},{"x":68,"v":0.0033},{"x":69,"v":0.0037},{"x":70,"v":0.0042},{"x":71,"v":0.0047},{"x":72,"v":0.0054},{"x":73,"v":0.0063},{"x":74,"v":0.0076},{"x":75,"v":0.0096},{"x":76,"v":0.0118},{"x":76.5,"v":0.0155},{"x":77,"v":0.0197},{"x":77.5,"v":0.0258},{"x":78,"v":0.035},{"x":78.5,"v":0.052},{"x":79,"v":0.1},{"x":79.5,"v":0.21},{"x":80,"v":0.305},{"x":80.5,"v":0.3},{"x":81,"v":0.215},{"x":81.5,"v":0.14},{"x":82,"v":0.092},{"x":82.5,"v":0.066},{"x":83,"v":0.05},{"x":83.5,"v":0.039},{"x":84,"v":0.032},{"x":84.5,"v":0.027},{"x":85,"v":0.0235},{"x":85.5,"v":0.0205},{"x":86,"v":0.017},{"x":87,"v":0.0136},{"x":88,"v":0.0112},{"x":89,"v":0.0093},{"x":90,"v":0.0079},{"x":91,"v":0.0068},{"x":92,"v":0.0058},{"x":93,"v":0.005},{"x":94,"v":0.0044},{"x":95,"v":0.0039},{"x":96,"v":0.0035},{"x":97,"v":0.0031},{"x":98,"v":0.0027},{"x":99,"v":0.0024},{"x":100,"v":0.0024}
],
"interf": [
{"s":"NLO QCD","x":65,"v":-0.008},{"s":"NLO QCD","x":66,"v":-0.009},{"s":"NLO QCD","x":67,"v":-0.01},{"s":"NLO QCD","x":68,"v":-0.008},{"s":"NLO QCD","x":69,"v":-0.012},{"s":"NLO QCD","x":70,"v":-0.011},{"s":"NLO QCD","x":71,"v":-0.013},{"s":"NLO QCD","x":72,"v":-0.012},{"s":"NLO QCD","x":73,"v":-0.014},{"s":"NLO QCD","x":74,"v":-0.016},{"s":"NLO QCD","x":75,"v":-0.015},{"s":"NLO QCD","x":76,"v":-0.018},{"s":"NLO QCD","x":77,"v":-0.022},{"s":"NLO QCD","x":78,"v":-0.02},{"s":"NLO QCD","x":79,"v":-0.025},{"s":"NLO QCD","x":80,"v":-0.028},{"s":"NLO QCD","x":81,"v":-0.03},{"s":"NLO QCD","x":82,"v":-0.029},{"s":"NLO QCD","x":83,"v":-0.027},{"s":"NLO QCD","x":84,"v":-0.024},{"s":"NLO QCD","x":85,"v":-0.022},{"s":"NLO QCD","x":86,"v":-0.019},{"s":"NLO QCD","x":87,"v":-0.016},{"s":"NLO QCD","x":88,"v":-0.014},{"s":"NLO QCD","x":89,"v":-0.012},{"s":"NLO QCD","x":90,"v":-0.008},{"s":"NLO QCD","x":91,"v":-0.006},{"s":"NLO QCD","x":92,"v":-0.004},{"s":"NLO QCD","x":93,"v":-0.005},{"s":"NLO QCD","x":94,"v":0.002},{"s":"NLO QCD","x":95,"v":-0.006},{"s":"NLO QCD","x":96,"v":-0.002},{"s":"NLO QCD","x":97,"v":-0.004},{"s":"NLO QCD","x":98,"v":0.004},{"s":"NLO QCD","x":99,"v":-0.003},{"s":"NLO QCD","x":100,"v":-0.003},
{"s":"LO","x":65,"v":0.033},{"s":"LO","x":66,"v":0.036},{"s":"LO","x":67,"v":0.031},{"s":"LO","x":68,"v":0.03},{"s":"LO","x":69,"v":0.031},{"s":"LO","x":70,"v":0.03},{"s":"LO","x":71,"v":0.03},{"s":"LO","x":72,"v":0.029},{"s":"LO","x":73,"v":0.03},{"s":"LO","x":74,"v":0.03},{"s":"LO","x":75,"v":0.029},{"s":"LO","x":76,"v":0.03},{"s":"LO","x":77,"v":0.03},{"s":"LO","x":78,"v":0.029},{"s":"LO","x":79,"v":0.03},{"s":"LO","x":80,"v":0.031},{"s":"LO","x":81,"v":0.03},{"s":"LO","x":82,"v":0.03},{"s":"LO","x":83,"v":0.029},{"s":"LO","x":84,"v":0.03},{"s":"LO","x":85,"v":0.03},{"s":"LO","x":86,"v":0.03},{"s":"LO","x":87,"v":0.031},{"s":"LO","x":88,"v":0.03},{"s":"LO","x":89,"v":0.03},{"s":"LO","x":90,"v":0.03},{"s":"LO","x":91,"v":0.03},{"s":"LO","x":92,"v":0.031},{"s":"LO","x":93,"v":0.03},{"s":"LO","x":94,"v":0.03},{"s":"LO","x":95,"v":0.03},{"s":"LO","x":96,"v":0.031},{"s":"LO","x":97,"v":0.03},{"s":"LO","x":98,"v":0.03},{"s":"LO","x":99,"v":0.031},{"s":"LO","x":100,"v":0.031}
]
},
"vconcat": [
{
 "title": {"text": "p p → e⁺ e⁻ j j + X @ NLO QCD, √s = 13.6 TeV: Z W⁺", "fontSize": 7.5, "fontWeight": "normal", "offset": 3, "frame": "group", "anchor": "middle", "color": "#000000"},
 "width": 252, "height": 162,
 "data": {"name": "top"},
 "mark": {"type": "line", "interpolate": "step-after", "strokeWidth": 1.1, "clip": true},
 "encoding": {
  "x": {"field": "x", "type": "quantitative", "scale": {"domain": [65, 100], "nice": false, "zero": false}, "axis": {"values": [65,70,75,80,85,90,95,100], "labels": false, "title": null}},
  "y": {"field": "v", "type": "quantitative", "scale": {"type": "log", "domain": [0.000115, 3.4], "nice": false}, "axis": {"values": [0.001,0.01,0.1,1], "labelExpr": "datum.value >= 0.5 ? '10⁰' : datum.value >= 0.05 ? '10⁻¹' : datum.value >= 0.005 ? '10⁻²' : '10⁻³'", "title": "dσ/dMⱼ  [fb/GeV] NLO QCD"}},
  "color": {"field": "s", "type": "nominal", "scale": {"domain": ["UU","LL","LT","TL","TT"], "range": ["#a0a0a0","#ff0000","#ffa500","#008000","#0000ff"]},
   "legend": {"orient": "none", "legendX": 204, "legendY": 3, "padding": 0, "rowPadding": 1.5, "symbolType": "M-1.25,0H1.25", "symbolSize": 144, "symbolStrokeWidth": 1.5, "labelOffset": 4, "labelFontSize": 6.5,
    "labelExpr": "datum.label == 'UU' ? 'ZᵤWᵤ⁺' : datum.label == 'LL' ? 'ZₗWₗ⁺' : datum.label == 'LT' ? 'ZₗWₜ⁺' : datum.label == 'TL' ? 'ZₜWₗ⁺' : 'ZₜWₜ⁺'"}}
 }
},
{
 "width": 252, "height": 68,
 "data": {"name": "ratio"},
 "encoding": {
  "x": {"field": "x", "type": "quantitative", "scale": {"domain": [65, 100], "nice": false, "zero": false}, "axis": {"values": [65,70,75,80,85,90,95,100], "labels": false, "title": null}},
  "color": {"field": "s", "type": "nominal", "scale": {"domain": ["UU","LL","LT","TL","TT"], "range": ["#a0a0a0","#ff0000","#ffa500","#008000","#0000ff"]}, "legend": null}
 },
 "layer": [
  {"mark": {"type": "area", "interpolate": "step-after", "opacity": 0.22, "clip": true},
   "encoding": {"y": {"field": "lo", "type": "quantitative", "scale": {"domain": [1.33, 16.6], "nice": false, "zero": false}, "axis": {"values": [5,10,15], "format": ".2f", "title": "NLO QCD / LO"}}, "y2": {"field": "hi"}}},
  {"mark": {"type": "line", "interpolate": "step-after", "strokeWidth": 1, "clip": true},
   "encoding": {"y": {"field": "v", "type": "quantitative"}}}
 ]
},
{
 "width": 252, "height": 69,
 "encoding": {
  "x": {"field": "x", "type": "quantitative", "scale": {"domain": [65, 100], "nice": false, "zero": false}, "axis": {"values": [65,70,75,80,85,90,95,100], "labels": false, "title": null}}
 },
 "layer": [
  {"data": {"name": "norm"}, "mark": {"type": "line", "interpolate": "step-after", "strokeWidth": 1.1, "clip": true},
   "encoding": {"y": {"field": "v", "type": "quantitative", "scale": {"domain": [-0.013, 0.323], "nice": false, "zero": false}, "axis": {"values": [0,0.1,0.2,0.3], "format": ".2f", "title": "normalized"}},
    "color": {"field": "s", "type": "nominal", "scale": {"domain": ["UU","LL","LT","TL","TT"], "range": ["#a0a0a0","#ff0000","#ffa500","#008000","#0000ff"]}, "legend": null}}},
  {"data": {"name": "normlo"}, "mark": {"type": "line", "interpolate": "step-after", "strokeWidth": 1.1, "strokeDash": [2.5, 1.5], "color": "#0000ff", "clip": true},
   "encoding": {"y": {"field": "v", "type": "quantitative"}}}
 ]
},
{
 "width": 252, "height": 62,
 "encoding": {
  "x": {"field": "x", "type": "quantitative", "scale": {"domain": [65, 100], "nice": false, "zero": false}, "axis": {"values": [65,70,75,80,85,90,95,100], "format": "d", "title": "Mⱼ [GeV]"}}
 },
 "layer": [
  {"data": {"name": "interf"}, "mark": {"type": "rule", "color": "#000000", "strokeDash": [1, 1.5], "strokeWidth": 0.8},
   "encoding": {"y": {"datum": 0, "type": "quantitative", "scale": {"domain": [-0.213, 0.213], "nice": false, "zero": false}, "axis": {"values": [-0.2,-0.1,0,0.1,0.2], "format": ".2f", "title": "interf. / unpol."}}, "x": null}},
  {"data": {"name": "interf"}, "mark": {"type": "line", "interpolate": "step-after", "clip": true},
   "encoding": {
    "y": {"field": "v", "type": "quantitative"},
    "color": {"field": "s", "type": "nominal", "scale": {"domain": ["NLO QCD","LO"], "range": ["#ff70ff","#ff00ff"]},
      "legend": {"orient": "none", "legendX": 8, "legendY": 29, "padding": 0, "rowPadding": 0, "symbolType": "M-1.2,0H1.2", "symbolSize": 144, "labelOffset": 5, "labelFontSize": 6.5}},
    "strokeDash": {"field": "s", "type": "nominal", "scale": {"domain": ["NLO QCD","LO"], "range": [[1,0],[3,1.5]]}},
    "strokeWidth": {"field": "s", "type": "nominal", "scale": {"domain": ["NLO QCD","LO"], "range": [2.2,1]}}
   }}
 ]
}
]
}
